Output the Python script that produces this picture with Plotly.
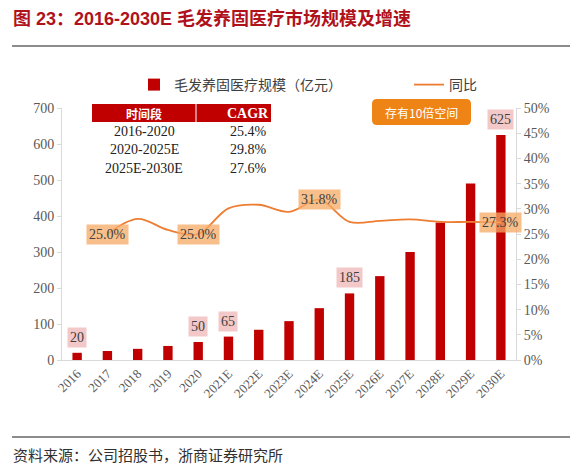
import plotly.graph_objects as go

# ---------------- data ----------------
years = ["2016", "2017", "2018", "2019", "2020", "2021E", "2022E", "2023E",
         "2024E", "2025E", "2026E", "2027E", "2028E", "2029E", "2030E"]
market_size = [20, 25, 31, 39, 50, 65, 84, 108, 144, 185, 233, 300, 382, 490, 625]
yoy_pct = [None, 25.0, 28.0, 25.8, 25.0, 30.1, 30.8, 29.4, 31.8, 27.4, 27.6, 27.9, 27.4, 27.4, 27.3]

bar_label_years = ["2016", "2020", "2021E", "2025E", "2030E"]
line_label_years = ["2017", "2020", "2024E", "2030E"]

table_header = ["时间段", "CAGR"]
table_periods = ["2016-2020", "2020-2025E", "2025E-2030E"]
table_cagr = ["25.4%", "29.8%", "27.6%"]

title_text = "图 23：2016-2030E 毛发养固医疗市场规模及增速"
source_text = "资料来源：公司招股书，浙商证券研究所"
callout_text = "存有10倍空间"

# ---------------- geometry helpers (reference-pixel coordinates) ----------------
OFF = 8                      # page body margin
W, H = 578 - OFF, 471 - OFF
PX0, PX1, PY0, PY1 = 62, 516, 108, 360   # plot area in reference pixels


def px(x):
    return (x - PX0) / (PX1 - PX0)


def py(y):
    return (PY1 - y) / (PY1 - PY0)


BAR = "#C00000"
ORANGE = "#ED7D31"
GRAY_TXT = "#595959"
SERIF = "Liberation Serif, Times New Roman, Noto Sans CJK SC"
CJK = "Noto Sans CJK SC"

fig = go.Figure()
fig.add_trace(go.Bar(
    x=years, y=market_size, name="毛发养固医疗规模（亿元）",
    marker=dict(color=BAR, line=dict(width=0)), width=0.31, legend="legend",
))
fig.add_trace(go.Scatter(
    x=years, y=yoy_pct, name="同比", yaxis="y2", mode="lines",
    line=dict(color=ORANGE, width=1.8, shape="spline", smoothing=1.0),
    connectgaps=False, legend="legend2",
))

annotations = []
# bar value labels
for yr in bar_label_years:
    i = years.index(yr)
    v = market_size[i]
    annotations.append(dict(
        x=i, y=v, xref="x", yref="y", text=str(v), showarrow=False,
        xanchor="center", yanchor="bottom", yshift=5,
        font=dict(family=SERIF, size=14, color="#404040"),
        bgcolor="rgba(236,170,170,0.65)", borderpad=2,
    ))
# line value labels
for yr in line_label_years:
    i = years.index(yr)
    v = yoy_pct[i]
    annotations.append(dict(
        x=i, y=v, xref="x", yref="y2", text=f"{v:.1f}%", showarrow=False,
        xanchor="center", yanchor="middle",
        font=dict(family=SERIF, size=14, color="#404040"),
        bgcolor="rgba(245,170,100,0.75)", borderpad=2,
    ))


def paper_text(x, y, text, font, xanchor="center"):
    return dict(x=px(x), y=py(y), xref="paper", yref="paper", xanchor=xanchor,
                yanchor="middle", text=text, showarrow=False, font=font)


# title
annotations.append(paper_text(11, 19, "<b>" + title_text + "</b>",
                              dict(family="Liberation Sans, Arial, " + CJK, size=18, color="#B0121B"),
                              xanchor="left"))
# source
annotations.append(paper_text(11, 454, source_text,
                              dict(family=CJK, size=15, color="#303030"), xanchor="left"))
# callout box text
annotations.append(paper_text(421.5, 112, callout_text,
                              dict(family=CJK, size=12, color="white")))

# table
col_x = [144, 248]
annotations.append(paper_text(col_x[0], 113, "<b>" + table_header[0] + "</b>",
                              dict(family=CJK, size=12, color="white")))
annotations.append(paper_text(col_x[1], 113, "<b>" + table_header[1] + "</b>",
                              dict(family=SERIF, size=14, color="white")))
row_y = [131.5, 149.5, 168]
for i, (p, c) in enumerate(zip(table_periods, table_cagr)):
    annotations.append(paper_text(col_x[0], row_y[i], p,
                                  dict(family=SERIF, size=14, color="#222222")))
    annotations.append(paper_text(col_x[1], row_y[i], c,
                                  dict(family=SERIF, size=14, color="#222222")))

shapes = [
    # title rule
    dict(type="line", xref="paper", yref="paper", x0=px(12), x1=px(571), y0=py(46), y1=py(46),
         line=dict(color="#8C8C8C", width=2)),
    # bottom rule
    dict(type="line", xref="paper", yref="paper", x0=px(12), x1=px(571), y0=py(437), y1=py(437),
         line=dict(color="#8C8C8C", width=2)),
    # table header
    dict(type="rect", xref="paper", yref="paper", x0=px(92), x1=px(271), y0=py(122), y1=py(104),
         fillcolor="#C00000", line=dict(width=0), layer="below"),
    dict(type="line", xref="paper", yref="paper", x0=px(196), x1=px(196), y0=py(122), y1=py(104),
         line=dict(color="white", width=1), layer="below"),
    # callout box (rounded)
    dict(type="path", xref="paper", yref="paper", layer="below",
         path=("M {a},{b} L {c},{b} Q {d},{b} {d},{e} L {d},{f} Q {d},{g} {c},{g} "
               "L {a},{g} Q {h},{g} {h},{f} L {h},{e} Q {h},{b} {a},{b} Z").format(
             a=px(377), c=px(466), d=px(471), h=px(372),
             b=py(99), e=py(104), f=py(120), g=py(125)),
         fillcolor="#EF8416", line=dict(width=0)),
]

legend_common = dict(orientation="h", yanchor="middle", y=py(85), xanchor="left",
                     font=dict(family=CJK, size=14, color="#404040"),
                     itemwidth=30, bgcolor="rgba(0,0,0,0)")

fig.update_layout(
    width=W, height=H,
    margin=dict(l=PX0 - OFF, r=W - (PX1 - OFF), t=PY0 - OFF, b=H - (PY1 - OFF), autoexpand=False),
    plot_bgcolor="white", paper_bgcolor="white",
    showlegend=True,
    legend=dict(x=px(134), **legend_common),
    legend2=dict(x=px(409), **legend_common),
    xaxis=dict(type="category", range=[-0.5, 14.5], showline=True, linecolor="#D9D9D9",
               linewidth=1, ticks="", tickangle=-45,
               tickfont=dict(family=SERIF, size=13, color=GRAY_TXT), showgrid=False),
    yaxis=dict(range=[0, 700], dtick=100, showline=True, linecolor="#D9D9D9", linewidth=1,
               ticks="outside", ticklen=4, tickcolor="#D9D9D9", showgrid=False, zeroline=False,
               tickfont=dict(family=SERIF, size=14, color=GRAY_TXT)),
    yaxis2=dict(range=[0, 50], dtick=5, ticksuffix="%", overlaying="y", side="right",
                showline=True, linecolor="#D9D9D9", linewidth=1, ticks="outside", ticklen=4,
                tickcolor="#D9D9D9", showgrid=False, zeroline=False,
                tickfont=dict(family=SERIF, size=14, color=GRAY_TXT)),
    annotations=annotations,
    shapes=shapes,
)

fig.write_html("out.html")
